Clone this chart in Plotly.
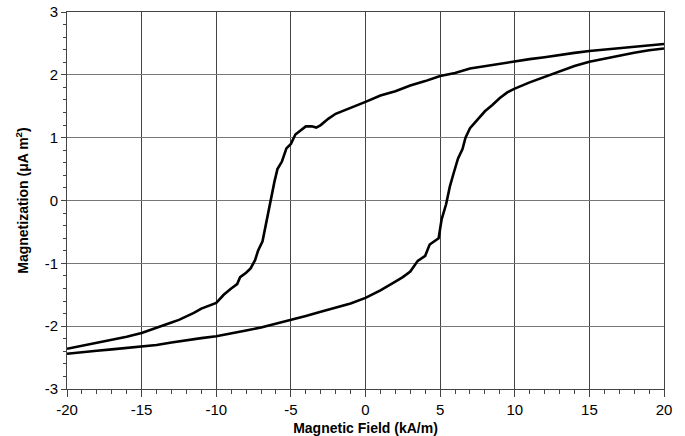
import plotly.graph_objects as go

# Descending branch (from +20 to -20)
desc_x = [20, 19, 18, 17, 16, 15, 14, 13, 12, 11, 10, 9, 8, 7, 6, 5, 4, 3, 2, 1, 0,
          -1, -2, -2.5, -3, -3.3, -3.6, -4.0, -4.3, -4.7, -5.0, -5.3, -5.6, -5.9, -6.1,
          -6.3, -6.5, -6.7, -6.9, -7.2, -7.4, -7.7, -8.0, -8.4, -8.6, -9.0, -9.5, -10.0,
          -10.5, -11.0, -11.5, -12.0, -12.5, -13.0, -13.5, -14.0, -15.0, -16.0, -17.0,
          -18.0, -19.0, -20.0]
desc_y = [2.49, 2.47, 2.45, 2.43, 2.40, 2.38, 2.35, 2.31, 2.28, 2.25, 2.21, 2.18, 2.14,
          2.10, 2.03, 1.98, 1.90, 1.83, 1.74, 1.67, 1.57, 1.48, 1.38, 1.30, 1.20, 1.16,
          1.18, 1.18, 1.12, 1.05, 0.90, 0.83, 0.62, 0.50, 0.30, 0.05, -0.15, -0.45, -0.65,
          -0.80, -0.95, -1.08, -1.15, -1.22, -1.33, -1.40, -1.50, -1.63, -1.68, -1.72,
          -1.79, -1.85, -1.90, -1.94, -1.98, -2.03, -2.11, -2.17, -2.22, -2.27, -2.31, -2.36]

# Ascending branch (from -20 to +20)
asc_x = [-20, -19, -18, -17, -16, -15, -14, -13, -12, -11, -10, -9, -8, -7, -6, -5, -4,
         -3, -2, -1, 0, 1, 2, 2.5, 3.0, 3.5, 4.0, 4.3, 4.9, 5.1, 5.4, 5.65, 5.9, 6.2, 6.5,
         6.7, 7.0, 7.5, 8.0, 8.5, 9.0, 9.5, 10, 11, 12, 13, 14, 15, 16, 17, 18, 19, 20]
asc_y = [-2.44, -2.41, -2.39, -2.37, -2.35, -2.33, -2.30, -2.26, -2.22, -2.19, -2.16,
         -2.12, -2.07, -2.02, -1.96, -1.91, -1.84, -1.77, -1.70, -1.64, -1.55, -1.43,
         -1.29, -1.22, -1.13, -0.96, -0.88, -0.70, -0.60, -0.30, -0.06, 0.22, 0.43, 0.67,
         0.82, 1.00, 1.15, 1.28, 1.42, 1.52, 1.63, 1.72, 1.78, 1.88, 1.97, 2.05, 2.14,
         2.21, 2.26, 2.30, 2.35, 2.39, 2.42]

x_ticks = [-20, -15, -10, -5, 0, 5, 10, 15, 20]
x_labels = ["-20", "-15", "-10", "-5", "0", "5", "10", "15", "20"]
y_ticks = [-3, -2, -1, 0, 1, 2, 3]
y_labels = ["-3", "-2", "-1", "0", "1", "2", "3"]

fig = go.Figure()
fig.add_trace(go.Scatter(x=desc_x, y=desc_y, mode="lines",
                         line=dict(color="black", width=2.6), showlegend=False))
fig.add_trace(go.Scatter(x=asc_x, y=asc_y, mode="lines",
                         line=dict(color="black", width=2.6), showlegend=False))

font = "Liberation Sans, Arial, sans-serif"
fig.update_layout(
    width=685, height=436,
    margin=dict(l=67, r=21, t=12, b=47),
    paper_bgcolor="white", plot_bgcolor="white",
    font=dict(family=font, size=15, color="black"),
)
fig.update_xaxes(
    range=[-20, 20], tickvals=x_ticks, ticktext=x_labels, automargin=False,
    showgrid=True, gridcolor="#444", gridwidth=1, zeroline=False,
    showline=True, linecolor="#444", linewidth=1, mirror=True,
    ticks="outside", ticklen=7, tickcolor="#444", ticklabelstandoff=0,
    minor=dict(dtick=1, ticks="outside", ticklen=4, tickcolor="#444", showgrid=False),
    tickfont=dict(size=15),
    title=dict(text="<b>Magnetic Field (kA/m)</b>", font=dict(size=14), standoff=8),
)
fig.update_yaxes(
    range=[-3, 3], tickvals=y_ticks, ticktext=y_labels, automargin=False,
    showgrid=True, gridcolor="#777", gridwidth=1, zeroline=False,
    showline=True, linecolor="#444", linewidth=1, mirror=True,
    ticks="outside", ticklen=5, tickcolor="#444",
    minor=dict(dtick=0.2, ticks="outside", ticklen=3, tickcolor="#444", showgrid=False),
    tickfont=dict(size=15),
    title=dict(text="<b>Magnetization (μA m<sup>2</sup>)</b>", font=dict(size=14), standoff=12),
)

fig.write_html("out.html")
